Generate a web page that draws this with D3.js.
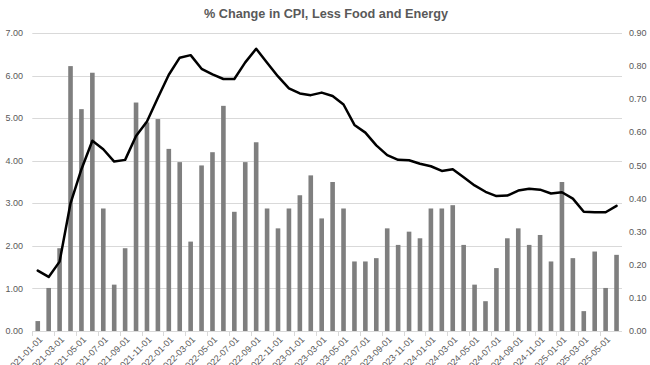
<!DOCTYPE html>
<html><head><meta charset="utf-8">
<script src="https://cdn.jsdelivr.net/npm/d3@7"></script>
<style>body{margin:0;background:#fff}svg{display:block}</style>
</head><body>
<svg id="c" width="650" height="365"></svg>
<script>
const months = ["2021-01-01","2021-02-01","2021-03-01","2021-04-01","2021-05-01","2021-06-01","2021-07-01","2021-08-01","2021-09-01","2021-10-01","2021-11-01","2021-12-01",
"2022-01-01","2022-02-01","2022-03-01","2022-04-01","2022-05-01","2022-06-01","2022-07-01","2022-08-01","2022-09-01","2022-10-01","2022-11-01","2022-12-01",
"2023-01-01","2023-02-01","2023-03-01","2023-04-01","2023-05-01","2023-06-01","2023-07-01","2023-08-01","2023-09-01","2023-10-01","2023-11-01","2023-12-01",
"2024-01-01","2024-02-01","2024-03-01","2024-04-01","2024-05-01","2024-06-01","2024-07-01","2024-08-01","2024-09-01","2024-10-01","2024-11-01","2024-12-01",
"2025-01-01","2025-02-01","2025-03-01","2025-04-01","2025-05-01","2025-06-01"];
// year-over-year % change (left axis, line)
const yoy = [1.42,1.27,1.63,3.00,3.80,4.47,4.27,3.98,4.02,4.58,4.92,5.48,
6.02,6.42,6.48,6.16,6.03,5.92,5.92,6.31,6.63,6.30,5.98,5.70,
5.58,5.54,5.60,5.52,5.32,4.84,4.66,4.36,4.13,4.02,4.01,3.93,
3.87,3.76,3.80,3.61,3.42,3.27,3.17,3.18,3.30,3.34,3.32,3.23,
3.26,3.11,2.80,2.79,2.79,2.94];
// month-over-month % change (right axis, bars)
const mom = [0.03,0.13,0.25,0.80,0.67,0.78,0.37,0.14,0.25,0.69,0.63,0.64,
0.55,0.51,0.27,0.50,0.54,0.68,0.36,0.51,0.57,0.37,0.31,0.37,
0.41,0.47,0.34,0.45,0.37,0.21,0.21,0.22,0.31,0.26,0.30,0.28,
0.37,0.37,0.38,0.26,0.14,0.09,0.19,0.28,0.31,0.26,0.29,0.21,
0.45,0.22,0.06,0.24,0.13,0.23];
const leftTicks = [0,1,2,3,4,5,6,7];
const rightTicks = [0,0.1,0.2,0.3,0.4,0.5,0.6,0.7,0.8,0.9];
const title = "% Change in CPI, Less Food and Energy";

const svg = d3.select("#c");
const L = 32.3, R = 622, T = 33, B = 331;
const font = "'Liberation Sans', Arial, sans-serif";
const txt = "#595959";

const x = d3.scaleBand().domain(months).range([L, R]).paddingInner(0.6).paddingOuter(0.3);
const xb = d3.scaleBand().domain(months).range([L, R]);
const yL = d3.scaleLinear().domain([0, 7]).range([B, T]);
const yR = d3.scaleLinear().domain([0, 0.9]).range([B, T]);

// gridlines
svg.append("g").selectAll("line").data(leftTicks).join("line")
  .attr("x1", L).attr("x2", R)
  .attr("y1", d => Math.round(yL(d)) + 0.5).attr("y2", d => Math.round(yL(d)) + 0.5)
  .attr("stroke", "#d9d9d9").attr("stroke-width", 1);

// left axis labels
svg.append("g").selectAll("text").data(leftTicks).join("text")
  .attr("x", 23).attr("y", d => yL(d)).attr("dy", "0.35em")
  .attr("text-anchor", "end").attr("fill", txt)
  .style("font", `9px ${font}`).text(d => d.toFixed(2));

// right axis labels
svg.append("g").selectAll("text").data(rightTicks).join("text")
  .attr("x", 629).attr("y", d => yR(d)).attr("dy", "0.35em")
  .attr("text-anchor", "start").attr("fill", txt)
  .style("font", `9px ${font}`).text(d => d.toFixed(2));

// bars
const bw = 4.6;
svg.append("g").selectAll("rect").data(mom).join("rect")
  .attr("x", (d, i) => xb(months[i]) + xb.bandwidth() / 2 - bw / 2)
  .attr("width", bw)
  .attr("y", d => yR(d)).attr("height", d => B - yR(d))
  .attr("fill", "#7f7f7f");

// x axis line and ticks
svg.append("line").attr("x1", L).attr("x2", R).attr("y1", B + 0.5).attr("y2", B + 0.5)
  .attr("stroke", "#d9d9d9");
const tickMonths = months.filter((d, i) => i % 2 === 0);
svg.append("g").selectAll("line").data(tickMonths).join("line")
  .attr("x1", d => Math.round(xb(d)) + 0.5).attr("x2", d => Math.round(xb(d)) + 0.5)
  .attr("y1", B).attr("y2", B + 5).attr("stroke", "#d9d9d9");

// x labels
svg.append("g").selectAll("text").data(tickMonths).join("text")
  .attr("transform", d => `translate(${xb(d) + xb.bandwidth() / 2 + 3},${B + 7}) rotate(-45)`)
  .attr("text-anchor", "end").attr("dy", "0.35em").attr("fill", txt)
  .style("font", `9px ${font}`).text(d => d);

// line
const line = d3.line().x((d, i) => xb(months[i]) + xb.bandwidth() / 2).y(d => yL(d));
svg.append("path").datum(yoy).attr("d", line)
  .attr("fill", "none").attr("stroke", "#000").attr("stroke-width", 2.5)
  .attr("stroke-linejoin", "round").attr("stroke-linecap", "round");

// title
const t = svg.append("text").attr("x", 326).attr("y", 18).attr("text-anchor", "middle")
  .attr("fill", txt).style("font-family", font).style("font-weight", "bold")
  .style("font-size", "14px").text(title);
const w = t.node().getComputedTextLength();
t.style("font-size", (14 * 244 / w).toFixed(2) + "px");
</script>
</body></html>
